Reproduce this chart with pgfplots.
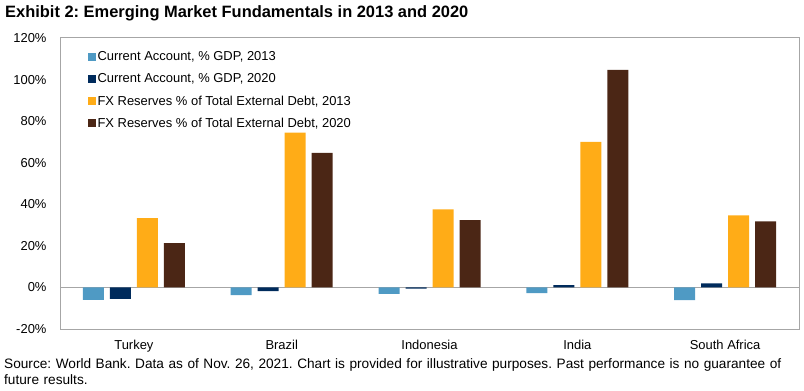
\documentclass[border=0pt]{standalone}
\usepackage{fontspec}
\setmainfont{Liberation Sans}
\usepackage{pgfplots}
\pgfplotsset{compat=1.18}
\frenchspacing
\definecolor{caA}{RGB}{79,154,196}
\definecolor{caB}{RGB}{0,43,92}
\definecolor{fxA}{RGB}{255,172,23}
\definecolor{fxB}{RGB}{75,38,21}
\definecolor{frame}{RGB}{166,166,166}
\begin{document}
\begin{tikzpicture}[x=1bp,y=1bp]
\useasboundingbox (-60bp,-62bp) rectangle (744bp,329bp);
\begin{axis}[
  at={(0,0)}, anchor=south west,
  scale only axis, width=739bp, height=291bp,
  xmin=-0.5, xmax=4.5, ymin=-20, ymax=120,
  ytick={-20,0,20,40,60,80,100,120},
  yticklabel={\pgfmathprintnumber{\tick}\%},
  /pgf/number format/assume math mode=true,
  xtick={0,1,2,3,4},
  xticklabels={Turkey,Brazil,Indonesia,India,South Africa},
  major tick length=0pt,
  axis line style={frame, line width=1pt},
  ticklabel style={font=\fontsize{13}{15}\selectfont},
  yticklabel style={xshift=-10bp},
  xticklabel style={yshift=-8bp},
  ybar, bar width=21bp,
  extra y ticks={0}, extra y tick labels={},
  extra y tick style={grid=major, major grid style={frame, line width=1pt}},
  legend style={at={(0.037,0.96)}, anchor=north west, draw=none, fill=none,
    font=\fontsize{13}{15}\selectfont, row sep=7.4bp, inner sep=0pt,
    legend cell align=left},
  legend image code/.code={\fill[#1] (0bp,-4bp) rectangle (8bp,4bp);},
]
\addplot[fill=caA, draw=none, bar shift=-40.5bp] coordinates {(0,-6.0) (1,-3.7) (2,-3.1) (3,-2.8) (4,-6.1)};
\addplot[fill=caB, draw=none, bar shift=-13.5bp] coordinates {(0,-5.5) (1,-1.8) (2,-0.6) (3,1.1) (4,2.0)};
\addplot[fill=fxA, draw=none, bar shift=13.5bp] coordinates {(0,33.3) (1,74.5) (2,37.6) (3,70.0) (4,34.7)};
\addplot[fill=fxB, draw=none, bar shift=40.5bp] coordinates {(0,21.3) (1,64.7) (2,32.4) (3,104.7) (4,31.8)};
\legend{{Current Account, \% GDP, 2013},{Current Account, \% GDP, 2020},{FX Reserves \% of Total External Debt, 2013},{FX Reserves \% of Total External Debt, 2020}}
\end{axis}
\node[anchor=base west, inner sep=0pt, font=\bfseries\fontsize{16.5}{19}\selectfont] at (-55bp,311bp) {Exhibit 2: Emerging Market Fundamentals in 2013 and 2020};
\node[anchor=base west, align=left, inner sep=0pt, font=\fontsize{13.7}{16.2}\selectfont, text width=800bp] at (-56bp,-39bp) {Source: World Bank. Data as of Nov. 26, 2021. Chart is provided for illustrative purposes. Past performance is no guarantee of\\future results.};
\end{tikzpicture}
\end{document}
